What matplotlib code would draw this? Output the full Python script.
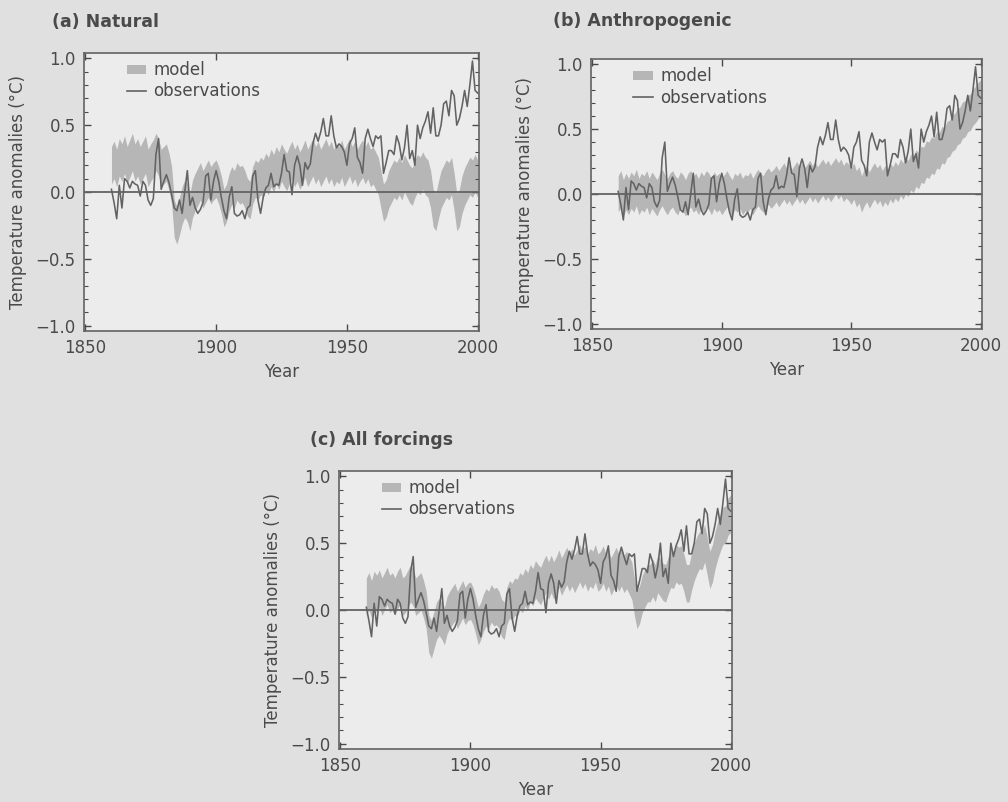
import numpy as np
import matplotlib
matplotlib.use("Agg")
import matplotlib.pyplot as plt
from matplotlib.patches import Patch
from matplotlib.lines import Line2D

# years 1860-2000, one value per year
years = np.arange(1860, 2001)

obs = [
    0.02, -0.08, -0.20, 0.05, -0.12, 0.10, 0.08, 0.03, 0.08, 0.06,
    0.05, -0.03, 0.08, 0.05, -0.06, -0.10, -0.05, 0.28, 0.40, 0.02,
    0.08, 0.13, 0.07, -0.02, -0.12, -0.14, -0.06, -0.16, 0.00, 0.16,
    -0.10, -0.04, -0.12, -0.16, -0.13, -0.08, 0.12, 0.14, -0.06, 0.08,
    0.16, 0.08, -0.04, -0.14, -0.20, -0.04, 0.04, -0.16, -0.18, -0.17,
    -0.14, -0.20, -0.12, -0.10, 0.12, 0.16, -0.06, -0.16, -0.04, 0.03,
    0.05, 0.14, 0.04, 0.06, 0.05, 0.14, 0.28, 0.16, 0.15, -0.02,
    0.20, 0.27, 0.20, 0.05, 0.22, 0.17, 0.21, 0.36, 0.44, 0.38,
    0.45, 0.55, 0.42, 0.42, 0.57, 0.42, 0.33, 0.36, 0.34, 0.30,
    0.20, 0.36, 0.40, 0.48, 0.26, 0.22, 0.14, 0.40, 0.47, 0.40,
    0.34, 0.42, 0.40, 0.42, 0.14, 0.22, 0.31, 0.31, 0.28, 0.42,
    0.36, 0.24, 0.33, 0.50, 0.25, 0.31, 0.20, 0.50, 0.40, 0.48,
    0.53, 0.60, 0.44, 0.63, 0.42, 0.42, 0.50, 0.66, 0.68, 0.57,
    0.76, 0.72, 0.50, 0.55, 0.64, 0.76, 0.64, 0.80, 0.98, 0.76,
    0.74,
]

# model ensemble centre, natural forcing
model_natural = [
    0.20, 0.24, 0.18, 0.26, 0.22, 0.28, 0.20, 0.25, 0.30, 0.22,
    0.26, 0.20, 0.24, 0.28, 0.18, 0.22, 0.25, 0.30, 0.26, 0.18,
    0.20, 0.22, 0.15, 0.05, -0.20, -0.25, -0.18, -0.10, -0.05, -0.08,
    -0.15, -0.05, 0.00, 0.04, 0.08, 0.02, 0.06, 0.10, 0.05, 0.08,
    0.10, 0.05, -0.02, -0.12, -0.08, 0.00, 0.05, 0.02, 0.08, 0.05,
    0.06, 0.02, -0.04, -0.06, 0.05, 0.10, 0.08, 0.12, 0.10, 0.15,
    0.12, 0.18, 0.14, 0.20, 0.16, 0.22, 0.18, 0.15, 0.20, 0.24,
    0.18, 0.22, 0.16, 0.20, 0.25, 0.18, 0.22, 0.26, 0.20, 0.24,
    0.18, 0.22, 0.26, 0.20, 0.24, 0.18, 0.22, 0.20, 0.25, 0.18,
    0.22, 0.26, 0.20, 0.24, 0.18, 0.22, 0.25, 0.20, 0.24, 0.18,
    0.20, 0.16, 0.12, 0.02, -0.08, -0.05, 0.02, 0.06, 0.10, 0.08,
    0.12, 0.08, 0.14, 0.10, 0.06, 0.04, 0.10, 0.14, 0.12, 0.16,
    0.12, 0.10, 0.02, -0.12, -0.15, -0.06, 0.02, 0.06, 0.10, 0.08,
    0.12, 0.00, -0.15, -0.12, -0.02, 0.04, 0.08, 0.12, 0.10, 0.14,
    0.10,
]

# model ensemble centre, anthropogenic forcing
model_anthro = [
    0.00, 0.04, -0.03, 0.02, -0.02, 0.03, 0.00, 0.05, -0.02, 0.02,
    0.00, 0.04, -0.02, 0.03, 0.00, -0.03, 0.02, 0.05, 0.01, -0.02,
    0.02, 0.04, 0.00, -0.02, 0.03, 0.01, -0.03, 0.02, 0.04, 0.00,
    0.02, -0.02, 0.03, 0.00, 0.04, 0.02, -0.02, 0.03, 0.00, 0.02,
    -0.02, 0.01, 0.04, 0.00, -0.03, 0.02, 0.00, 0.03, -0.02, 0.01,
    0.00, 0.03, -0.02, 0.02, 0.05, 0.02, 0.00, 0.04, 0.06, 0.03,
    0.05, 0.08, 0.04, 0.07, 0.10, 0.06, 0.09, 0.05, 0.08, 0.11,
    0.07, 0.10, 0.06, 0.09, 0.12, 0.08, 0.11, 0.07, 0.10, 0.13,
    0.09, 0.12, 0.08, 0.11, 0.14, 0.10, 0.13, 0.08, 0.11, 0.09,
    0.06, 0.10, 0.04, 0.07, 0.00, 0.05, 0.08, 0.03, 0.07, 0.10,
    0.06, 0.09, 0.04, 0.08, 0.05, 0.10, 0.07, 0.11, 0.08, 0.13,
    0.10, 0.14, 0.12, 0.17, 0.15, 0.20, 0.18, 0.23, 0.22, 0.27,
    0.26, 0.30, 0.29, 0.34, 0.33, 0.38, 0.37, 0.42, 0.43, 0.47,
    0.48, 0.52, 0.53, 0.57, 0.58, 0.62, 0.63, 0.67, 0.69, 0.72,
    0.74,
]

# model ensemble centre, all forcings
model_all = [
    0.10, 0.14, 0.08, 0.15, 0.12, 0.16, 0.10, 0.14, 0.18, 0.12,
    0.14, 0.10, 0.15, 0.18, 0.10, 0.12, 0.16, 0.20, 0.17, 0.10,
    0.12, 0.14, 0.08, 0.00, -0.18, -0.22, -0.15, -0.08, -0.05, -0.08,
    -0.12, -0.04, 0.00, 0.03, 0.06, 0.00, 0.04, 0.08, 0.03, 0.06,
    0.07, 0.03, -0.04, -0.12, -0.08, -0.02, 0.02, 0.00, 0.05, 0.02,
    0.03, 0.00, -0.06, -0.08, 0.03, 0.08, 0.06, 0.10, 0.09, 0.14,
    0.12, 0.17, 0.14, 0.20, 0.17, 0.23, 0.20, 0.18, 0.23, 0.27,
    0.22, 0.27, 0.22, 0.26, 0.31, 0.25, 0.29, 0.33, 0.28, 0.32,
    0.27, 0.31, 0.35, 0.30, 0.34, 0.28, 0.32, 0.30, 0.35, 0.28,
    0.30, 0.34, 0.28, 0.32, 0.25, 0.29, 0.33, 0.28, 0.32, 0.27,
    0.30, 0.26, 0.22, 0.10, 0.00, 0.04, 0.12, 0.16, 0.20, 0.20,
    0.24, 0.20, 0.27, 0.24, 0.21, 0.20, 0.26, 0.31, 0.30, 0.35,
    0.33, 0.34, 0.28, 0.20, 0.20, 0.29, 0.36, 0.41, 0.45, 0.44,
    0.50, 0.40, 0.30, 0.35, 0.45, 0.52, 0.58, 0.63, 0.64, 0.70,
    0.72,
]

# half width of the shaded model range
spread_natural = 0.14
spread_anthro = 0.14
spread_all = 0.14

titles = ["(a) Natural", "(b) Anthropogenic", "(c) All forcings"]

BAND = "#b6b6b6"
LINE = "#636363"
TEXT = "#4a4a4a"

plt.rcParams["font.family"] = "DejaVu Sans"
plt.rcParams["text.color"] = TEXT
plt.rcParams["axes.labelcolor"] = TEXT
plt.rcParams["xtick.color"] = TEXT
plt.rcParams["ytick.color"] = TEXT


def plot_panel(ax, model, spread, title, title_x, title_pad):
    model = np.array(model)
    ax.set_facecolor("#ececec")
    ax.fill_between(years, model - spread, model + spread, color=BAND, lw=0)
    ax.plot(years, obs, color=LINE, lw=1.15)
    ax.axhline(0, color=LINE, lw=1.3)

    ax.set_xlim(1849.5, 2000.5)
    ax.set_ylim(-1.04, 1.04)
    ax.set_xticks([1850, 1900, 1950, 2000])
    ax.set_yticks([-1.0, -0.5, 0.0, 0.5, 1.0])
    ax.set_yticklabels(["\u22121.0", "\u22120.5", "0.0", "0.5", "1.0"])
    ax.set_yticks(np.arange(-1.0, 1.01, 0.1), minor=True)
    ax.tick_params(direction="in", top=True, right=True, labelsize=12,
                   length=5, width=1, pad=6)
    ax.tick_params(which="minor", direction="in", left=True, right=True,
                   length=3, width=0.8)
    for s in ax.spines.values():
        s.set_color(LINE)
        s.set_linewidth(1.2)

    ax.set_xlabel("Year", fontsize=12, labelpad=4)
    ax.set_ylabel("Temperature anomalies (\u00b0C)", fontsize=12, labelpad=6)
    ax.set_title(title, fontsize=12.5, fontweight="bold", loc="left",
                 x=title_x, pad=title_pad)

    handles = [Patch(facecolor=BAND, edgecolor="none", label="model"),
               Line2D([0], [0], color=LINE, lw=1.2, label="observations")]
    ax.legend(handles=handles, loc="upper left", bbox_to_anchor=(0.07, 1.025),
              frameon=False, fontsize=12, handlelength=1.15, handleheight=0.45,
              handletextpad=0.45, labelspacing=0.2)


fig = plt.figure(figsize=(10.08, 8.02), dpi=100, facecolor="#e0e0e0")
W, H = 1008.0, 802.0
ax_a = fig.add_axes([84 / W, 1 - 331 / H, 395 / W, 278 / H])
ax_b = fig.add_axes([591 / W, 1 - 329 / H, 391 / W, 270 / H])
ax_c = fig.add_axes([339 / W, 1 - 749 / H, 393 / W, 278 / H])

plot_panel(ax_a, model_natural, spread_natural, titles[0], -0.08, 19)
plot_panel(ax_b, model_anthro, spread_anthro, titles[1], -0.098, 24)
plot_panel(ax_c, model_all, spread_all, titles[2], -0.074, 19)

fig.savefig("out.png", dpi=100, facecolor=fig.get_facecolor())
